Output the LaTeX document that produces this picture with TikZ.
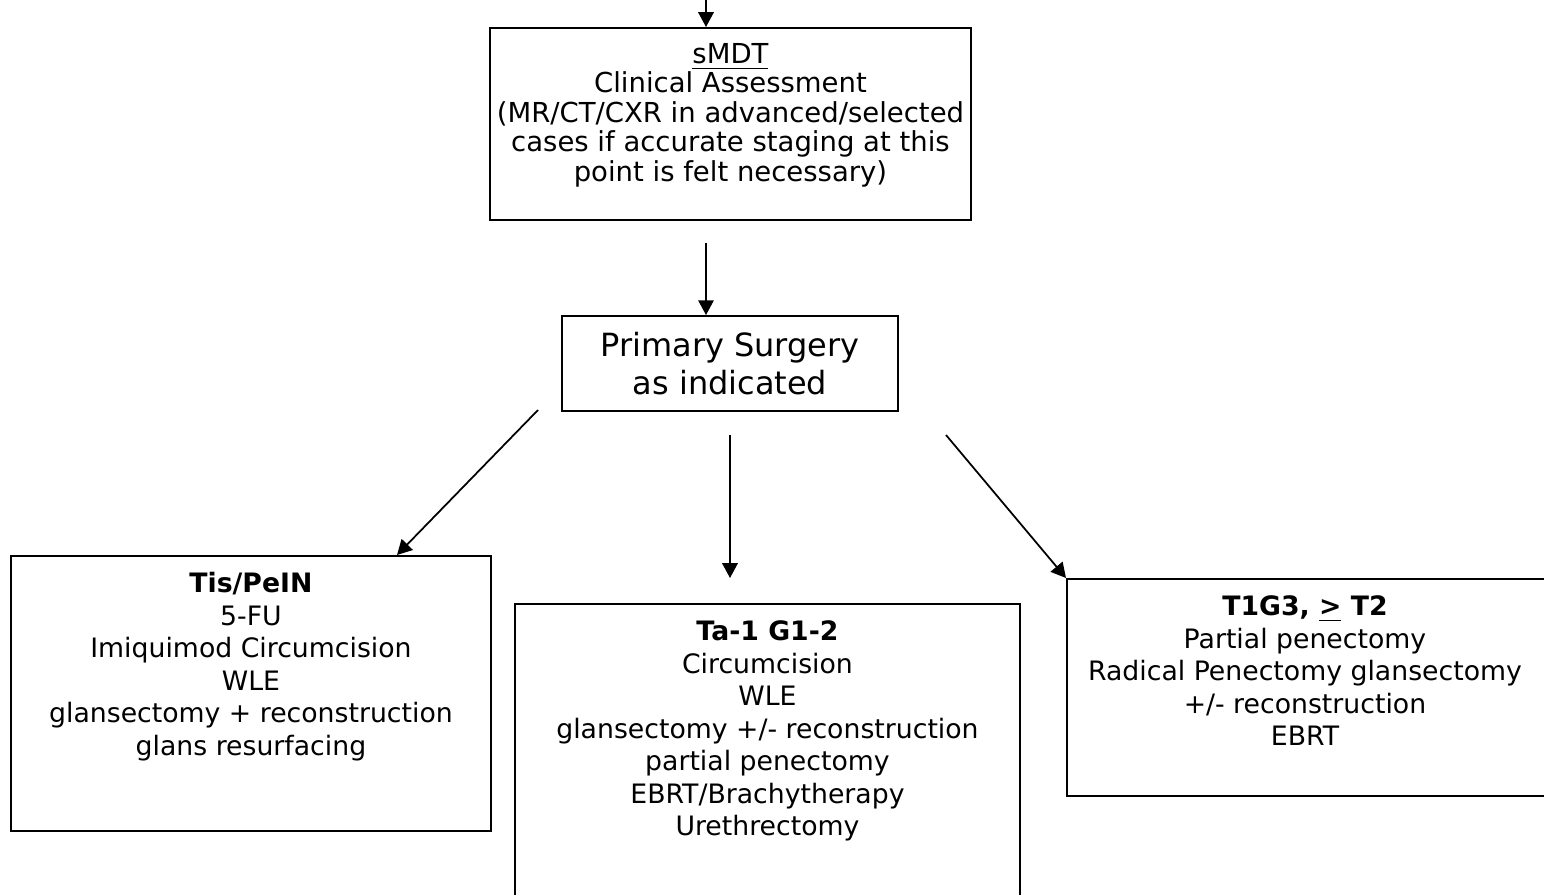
\documentclass[tikz,border=0pt]{standalone}
\usepackage{fontspec}
\setmainfont{DejaVu Sans}
\usepackage{tikz}
\usetikzlibrary{positioning}
\usetikzlibrary{calc}
\usetikzlibrary{arrows.meta}

% text of a box: fixed width and height, lines from the top
\newcommand{\boxtext}[3]{\parbox[c][#2][t]{#1}{\centering\rule{0pt}{10.5pt}#3}}
\newcommand{\boxfont}{\fontsize{7.6}{9.25}\selectfont}

\begin{document}
\begin{tikzpicture}[
    box/.style={draw, line width=0.55pt, inner sep=0pt, anchor=north west, font=\boxfont},
    arr/.style={-{Triangle[length=4.2pt,width=4.4pt]}, line width=0.5pt}
  ]

\useasboundingbox (0,0) rectangle (15.44,-8.95);
\clip (0,0) rectangle (15.44,-8.95);

%---------------------------------------
% Boxes
%---------------------------------------
\node[box] (smdt) at (4.89,-0.27)
  {\parbox[c][1.92cm][t]{4.81cm}{\centering\fontsize{7.82}{8.4}\selectfont\rule{0pt}{10pt}\underline{sMDT}\\
   Clinical Assessment\\
   (MR/CT/CXR in advanced/selected\\
   cases if accurate staging at this\\
   point is felt necessary)}};

\node[box, anchor=center, minimum width=3.36cm, minimum height=0.95cm,
      align=center, font=\fontsize{9.1}{10.8}\selectfont] (surgery) at (7.30,-3.635)
  {Primary Surgery\\ as indicated};

\node[box] (tis) at (0.10,-5.55)
  {\boxtext{4.80cm}{2.75cm}{\textbf{Tis/PeIN}\\
   5-FU\\
   Imiquimod Circumcision\\
   WLE\\
   glansectomy + reconstruction\\
   glans resurfacing}};

\node[box] (ta) at (5.14,-6.03)
  {\boxtext{5.05cm}{3.20cm}{\textbf{Ta-1 G1-2}\\
   Circumcision\\
   WLE\\
   glansectomy +/- reconstruction\\
   partial penectomy\\
   EBRT/Brachytherapy\\
   Urethrectomy}};

\node[box] (tonetwo) at (10.66,-5.78)
  {\boxtext{4.76cm}{2.17cm}{\textbf{T1G3, \underline{>} T2}\\
   Partial penectomy\\
   Radical Penectomy glansectomy\\
   +/- reconstruction\\
   EBRT}\rule{0.3cm}{0pt}};

%---------------------------------------
% Connectors
%---------------------------------------
\coordinate (top) at (7.06,0.05);
\coordinate (s1) at (7.06,-2.43);
\coordinate (s2) at (5.38,-4.10);
\coordinate (s3) at (7.30,-4.35);
\coordinate (e3) at (7.30,-5.78);
\coordinate (s4) at (9.46,-4.35);

\draw[arr] (top) -- (top |- smdt.north);
\draw[arr] (s1) -- (s1 |- surgery.north);
\draw[arr] (s2) -- ($(tis.north west)+(3.87,0)$);
\draw[arr] (s3) -- (e3);
\draw[arr] (s4) -- (tonetwo.north west);

\end{tikzpicture}
\end{document}
